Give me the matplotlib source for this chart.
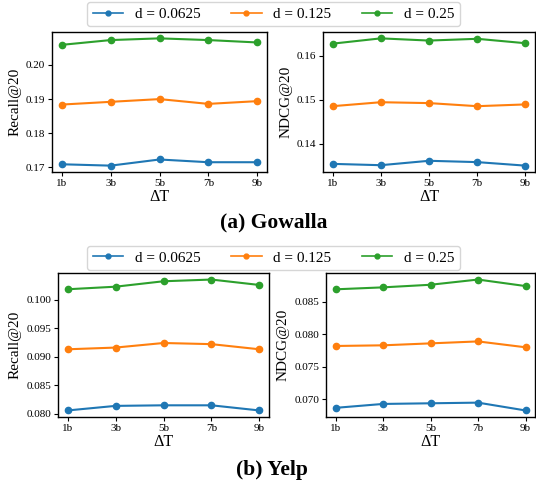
import matplotlib
matplotlib.use("Agg")
import matplotlib.pyplot as plt
from matplotlib.lines import Line2D
from matplotlib.ticker import MultipleLocator, FormatStrFormatter

plt.rcParams['font.family'] = ['Liberation Serif', 'DejaVu Serif']

x_labels = ["1b", "3b", "5b", "7b", "9b"]
series_names = ["d = 0.0625", "d = 0.125", "d = 0.25"]
colors = ["#1f77b4", "#ff7f0e", "#2ca02c"]

gowalla_recall = [
    [0.1709, 0.1705, 0.1723, 0.1715, 0.1715],
    [0.1884, 0.1892, 0.1900, 0.1886, 0.1894],
    [0.2059, 0.2073, 0.2078, 0.2073, 0.2066],
]
gowalla_ndcg = [
    [0.1354, 0.1351, 0.1361, 0.1358, 0.1350],
    [0.1485, 0.1494, 0.1492, 0.1485, 0.1489],
    [0.1627, 0.1639, 0.1634, 0.1638, 0.1628],
]
yelp_recall = [
    [0.0806, 0.0814, 0.0815, 0.0815, 0.0806],
    [0.0913, 0.0916, 0.0924, 0.0922, 0.0913],
    [0.1018, 0.10225, 0.1032, 0.1035, 0.10255],
]
yelp_ndcg = [
    [0.0687, 0.0693, 0.0694, 0.0695, 0.0683],
    [0.0782, 0.0783, 0.0786, 0.0789, 0.0780],
    [0.0869, 0.0872, 0.0876, 0.0884, 0.0874],
]

W, H = 536, 487
fig = plt.figure(figsize=(W / 100, H / 100), dpi=100)


def ax_at(x0, y0, x1, y1):
    return fig.add_axes([x0 / W, 1 - y1 / H, (x1 - x0) / W, (y1 - y0) / H])


panels = [
    (ax_at(52, 32, 267, 172), gowalla_recall, "Recall@20", "%.2f", 0.01),
    (ax_at(323, 32, 535, 172), gowalla_ndcg, "NDCG@20", "%.2f", 0.01),
    (ax_at(58, 273, 269, 417), yelp_recall, "Recall@20", "%.3f", 0.005),
    (ax_at(326, 273, 535, 417), yelp_ndcg, "NDCG@20", "%.3f", 0.005),
]

for ax, data, ylabel, fmt, step in panels:
    for vals, c, name in zip(data, colors, series_names):
        ax.plot(x_labels, vals, color=c, marker='o', markersize=4.5, linewidth=1.5, label=name)
    ax.set_ylabel(ylabel, fontsize=11, labelpad=3)
    ax.set_xlabel("ΔT", fontsize=11.5, labelpad=1)
    ax.yaxis.set_major_locator(MultipleLocator(step))
    ax.yaxis.set_major_formatter(FormatStrFormatter(fmt))
    ax.tick_params(labelsize=8, length=3, pad=2)
    for s in ax.spines.values():
        s.set_linewidth(1.0)

handles = [Line2D([], [], color=c, marker='o', markersize=3.5, linewidth=1.2) for c in colors]
for yc in (14, 258):
    fig.legend(handles, series_names, loc='center', bbox_to_anchor=(273.5 / W, 1 - yc / H),
               ncol=3, fontsize=11, frameon=True, handlelength=2.0, columnspacing=2.0,
               borderpad=0.35, handletextpad=0.75)

fig.text(273.5 / W, 1 - 222 / H, "(a) Gowalla", ha='center', va='center', fontsize=15.5, fontweight='bold')
fig.text(272 / W, 1 - 470.5 / H, "(b) Yelp", ha='center', va='center', fontsize=15.5, fontweight='bold')

fig.savefig("out.png", dpi=100)
